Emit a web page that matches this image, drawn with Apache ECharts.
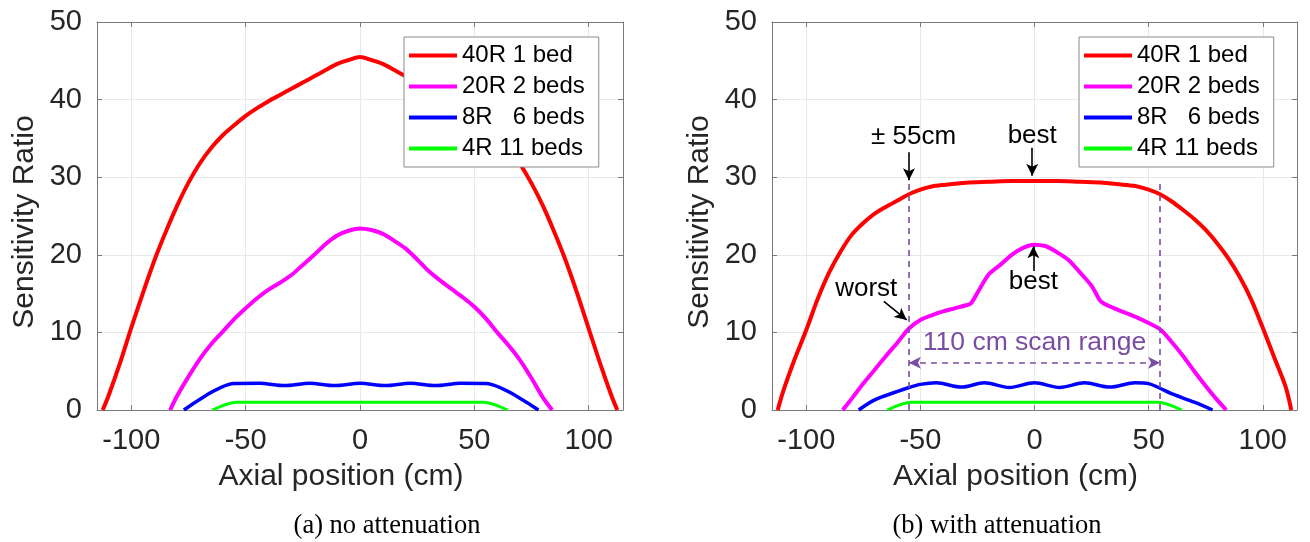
<!DOCTYPE html>
<html>
<head>
<meta charset="utf-8">
<script src="https://cdn.jsdelivr.net/npm/echarts@6/dist/echarts.min.js"></script>
<style>
  html, body { margin: 0; padding: 0; background: #fff; }
  #main { width: 1310px; height: 542px; }
</style>
</head>
<body>
<div id="main"></div>
<script>
// tick labels
let xTicks = [-100, -50, 0, 50, 100];
let seriesNames = ['40R 1 bed', '20R 2 beds', '8R   6 beds', '4R 11 beds'];

// (a) no attenuation
let redAx = [-112.5, -110, -105, -100, -95, -90, -85, -80, -75, -70, -65, -60, -55, -50, -45, -40, -35, -30, -25, -20, -15, -10, -5, 0, 5, 10, 15, 20, 25, 30, 35, 40, 45, 50, 55, 60, 65, 70, 75, 80, 85, 90, 95, 100, 105, 110, 112.5];
let redAy = [0, 1.8, 6.0, 10.6, 15.0, 19.2, 22.9, 26.3, 29.3, 31.8, 33.8, 35.4, 36.7, 37.9, 38.9, 39.8, 40.6, 41.4, 42.2, 43.0, 43.8, 44.6, 45.1, 45.5, 45.1, 44.6, 43.8, 43.0, 42.2, 41.4, 40.6, 39.8, 38.9, 37.9, 36.7, 35.4, 33.8, 31.7, 29.2, 26.3, 22.9, 19.2, 15.0, 10.5, 6.0, 1.8, 0];
let magAx = [-83, -80, -75, -70, -65, -60, -55, -50, -45, -40, -35, -30, -25, -20, -15, -10, -5, 0, 5, 10, 15, 20, 25, 30, 35, 40, 45, 50, 55, 60, 65, 70, 75, 80, 84];
let magAy = [0, 1.8, 4.3, 6.6, 8.5, 10.1, 11.7, 13.1, 14.4, 15.5, 16.4, 17.4, 18.7, 20.0, 21.4, 22.5, 23.1, 23.4, 23.2, 22.7, 21.8, 20.8, 19.4, 17.9, 16.7, 15.6, 14.5, 13.3, 11.8, 10.0, 8.3, 6.4, 4.1, 1.6, 0];
let blueAx = [-77, -55, -44, -33, -22, -11, 0, 11, 22, 33, 44, 55, 78];
let blueAy = [0, 3.4, 3.45, 3.15, 3.45, 3.15, 3.45, 3.15, 3.45, 3.15, 3.45, 3.4, 0];
let greenAx = [-64.5, -54, 54, 64.5];
let greenAy = [0, 1.0, 1.0, 0];

// (b) with attenuation
let redBx = [-112.5, -110, -105, -100, -95, -90, -85, -80, -75, -70, -65, -60, -55, -50, -45, -40, -30, -20, -10, 0, 10, 20, 30, 40, 45, 50, 55, 60, 65, 70, 75, 80, 85, 90, 95, 100, 105, 110, 112.5];
let redBy = [0, 2.5, 6.6, 10.3, 14.3, 17.7, 20.4, 22.6, 24.1, 25.3, 26.2, 27.0, 27.8, 28.4, 28.8, 29.0, 29.3, 29.4, 29.5, 29.5, 29.5, 29.4, 29.3, 29.0, 28.8, 28.4, 27.8, 26.9, 25.8, 24.6, 23.2, 21.5, 19.5, 17.1, 14.2, 10.6, 6.8, 3.0, 0];
let magBx = [-84, -80, -75, -70, -65, -60, -55, -50, -45, -40, -35, -30, -28, -25, -20, -15, -10, -5, 0, 5, 10, 15, 20, 25, 28.5, 30, 35, 40, 45, 50, 55, 60, 65, 70, 75, 80, 84];
let magBy = [0, 1.5, 3.4, 5.2, 7.0, 8.7, 10.5, 11.6, 12.2, 12.7, 13.1, 13.5, 13.7, 15.1, 17.5, 18.7, 20.0, 20.9, 21.3, 21.1, 20.3, 19.3, 17.7, 16.0, 14.2, 13.8, 13.1, 12.5, 11.9, 11.2, 10.4, 8.8, 7.0, 5.0, 3.1, 1.3, 0];
let blueBx = [-77, -70, -60, -55, -50, -43, -32, -22, -11, 0, 11, 22, 33, 44, 50, 55, 60, 70, 78];
let blueBy = [0, 1.3, 2.4, 2.9, 3.3, 3.5, 2.95, 3.5, 2.9, 3.5, 2.9, 3.5, 2.95, 3.5, 3.4, 2.8, 2.1, 1.0, 0];
let greenBx = [-64.5, -54, 54, 64.5];
let greenBy = [0, 1.0, 1.0, 0];

let colors = ['#ff0000', '#ff00ff', '#0000ff', '#00ff00'];
let widths = [4, 4, 3.5, 3];

let sans = 'Liberation Sans, Arial, sans-serif';
let textColor = '#262626';
let frameColor = '#7a7a7a';
let gridColor = '#e8e8e8';
let purple = '#7b4ca3';

function pairs(xs, ys) {
  return xs.map((x, i) => [x, ys[i]]);
}

function xAxes(gridIndex, shift) {
  return [{
    type: 'value', gridIndex: gridIndex, min: -115, max: 115, position: 'bottom',
    name: 'Axial position (cm)', nameLocation: 'middle', nameGap: 52,
    nameTextStyle: { fontSize: 30, color: textColor, fontFamily: sans, padding: [0, shift, 0, 0] },
    axisLine: { onZero: false, lineStyle: { color: frameColor } },
    axisTick: { inside: true, length: 5, customValues: xTicks, lineStyle: { color: frameColor } },
    axisLabel: { customValues: xTicks, fontSize: 29, color: textColor, margin: 16, fontFamily: sans },
    splitLine: { show: true, lineStyle: { color: gridColor } }
  }, {
    type: 'value', gridIndex: gridIndex, min: -115, max: 115, position: 'top',
    axisLine: { onZero: false, lineStyle: { color: frameColor } },
    axisTick: { inside: true, length: 5, customValues: xTicks, lineStyle: { color: frameColor } },
    axisLabel: { show: false },
    splitLine: { show: false }
  }];
}

function yAxes(gridIndex) {
  return [{
    type: 'value', gridIndex: gridIndex, min: 0, max: 50, interval: 10, position: 'left',
    name: 'Sensitivity Ratio', nameLocation: 'middle', nameGap: 57,
    nameTextStyle: { fontSize: 30, color: textColor, fontFamily: sans, padding: [0, 12, 0, 0] },
    axisLine: { show: true, onZero: false, lineStyle: { color: frameColor } },
    axisTick: { show: true, inside: true, length: 5, lineStyle: { color: frameColor } },
    axisLabel: { fontSize: 29, color: textColor, margin: 15, fontFamily: sans },
    splitLine: { show: true, lineStyle: { color: gridColor } }
  }, {
    type: 'value', gridIndex: gridIndex, min: 0, max: 50, interval: 10, position: 'right',
    axisLine: { show: true, onZero: false, lineStyle: { color: frameColor } },
    axisTick: { show: true, inside: true, length: 5, lineStyle: { color: frameColor } },
    axisLabel: { show: false },
    splitLine: { show: false }
  }];
}

function curve(name, idx, data, axisIndex) {
  return {
    type: 'line', name: name, data: data, xAxisIndex: axisIndex, yAxisIndex: axisIndex,
    showSymbol: false, symbol: 'none', smooth: 0.3, clip: true,
    lineStyle: { color: colors[idx], width: widths[idx] },
    itemStyle: { color: colors[idx] }
  };
}

function arrow(from, to, color, dashed, both) {
  return [
    { coord: from, symbol: both ? 'arrow' : 'none', symbolSize: [9, 12],
      lineStyle: { color: color, width: 1.6, type: dashed ? [6, 5] : 'solid' } },
    { coord: to, symbol: 'arrow', symbolSize: [9, 12] }
  ];
}

function note(text, coord, color, size) {
  return {
    name: text, coord: coord, symbol: 'circle', symbolSize: 1,
    itemStyle: { color: 'rgba(0,0,0,0)' },
    label: { show: true, position: 'inside', formatter: (p) => p.name, color: color,
      fontSize: size, fontFamily: sans, verticalAlign: 'middle', align: 'center' }
  };
}

let annotations = {
  type: 'line', name: 'notes', data: [], xAxisIndex: 2, yAxisIndex: 2, silent: true,
  markLine: {
    silent: true, animation: false, label: { show: false },
    data: [
      [{ coord: [-55, 0], symbol: 'none', lineStyle: { color: purple, width: 1.6, type: [6, 5] } }, { coord: [-55, 29.2], symbol: 'none' }],
      [{ coord: [55, 0], symbol: 'none', lineStyle: { color: purple, width: 1.6, type: [6, 5] } }, { coord: [55, 29.2], symbol: 'none' }],
      arrow([-55, 6.1], [55, 6.1], purple, true, true),
      arrow([-55, 33.2], [-55, 29.6], '#000', false, false),
      arrow([-1, 33.8], [-1, 30.2], '#000', false, false),
      arrow([-0.5, 17.9], [-0.5, 21.1], '#000', false, false),
      arrow([-66, 14.0], [-56, 11.6], '#000', false, false)
    ]
  },
  markPoint: {
    silent: true, animation: false,
    data: [
      note('± 55cm', [-53, 35.2], '#000', 26),
      note('best', [-1, 35.3], '#000', 26),
      note('best', [-0.5, 16.5], '#000', 26),
      note('worst', [-73.7, 15.6], '#000', 26),
      note('110 cm scan range', [0, 8.7], purple, 26.5)
    ]
  }
};

function legendAt(left) {
  return {
    data: seriesNames.map((n, i) => ({ name: n, icon: 'rect', itemStyle: { color: colors[i] } })),
    left: left, top: 37, orient: 'vertical', selectedMode: false,
    padding: [3, 14, 3, 5], itemGap: 0, itemWidth: 48, itemHeight: 4,
    backgroundColor: '#fff', borderColor: '#8a8a8a', borderWidth: 1, borderRadius: 0,
    textStyle: { fontSize: 24, color: '#000', lineHeight: 31, fontFamily: sans }
  };
}

let option = {
  animation: false,
  backgroundColor: '#fff',
  grid: [
    { left: 97, top: 22, width: 526, height: 388 },
    { left: 772, top: 22, width: 525, height: 388 }
  ],
  xAxis: xAxes(0, 38).concat(xAxes(1, 38)),
  yAxis: yAxes(0).concat(yAxes(1)),
  legend: [legendAt(404), legendAt(1079)],
  series: [
    curve(seriesNames[0], 0, pairs(redAx, redAy), 0),
    curve(seriesNames[1], 1, pairs(magAx, magAy), 0),
    curve(seriesNames[2], 2, pairs(blueAx, blueAy), 0),
    curve(seriesNames[3], 3, pairs(greenAx, greenAy), 0),
    curve(seriesNames[0], 0, pairs(redBx, redBy), 2),
    curve(seriesNames[1], 1, pairs(magBx, magBy), 2),
    curve(seriesNames[2], 2, pairs(blueBx, blueBy), 2),
    curve(seriesNames[3], 3, pairs(greenBx, greenBy), 2),
    annotations
  ],
  graphic: [
    { type: 'text', x: 387, y: 526, style: { text: '(a) no attenuation', font: '26.5px "Liberation Serif", serif', fill: '#000', textAlign: 'center', textVerticalAlign: 'middle' } },
    { type: 'text', x: 997, y: 526, style: { text: '(b) with attenuation', font: '26.5px "Liberation Serif", serif', fill: '#000', textAlign: 'center', textVerticalAlign: 'middle' } }
  ]
};

let chart = echarts.init(document.getElementById('main'));
chart.setOption(option);
</script>
</body>
</html>
